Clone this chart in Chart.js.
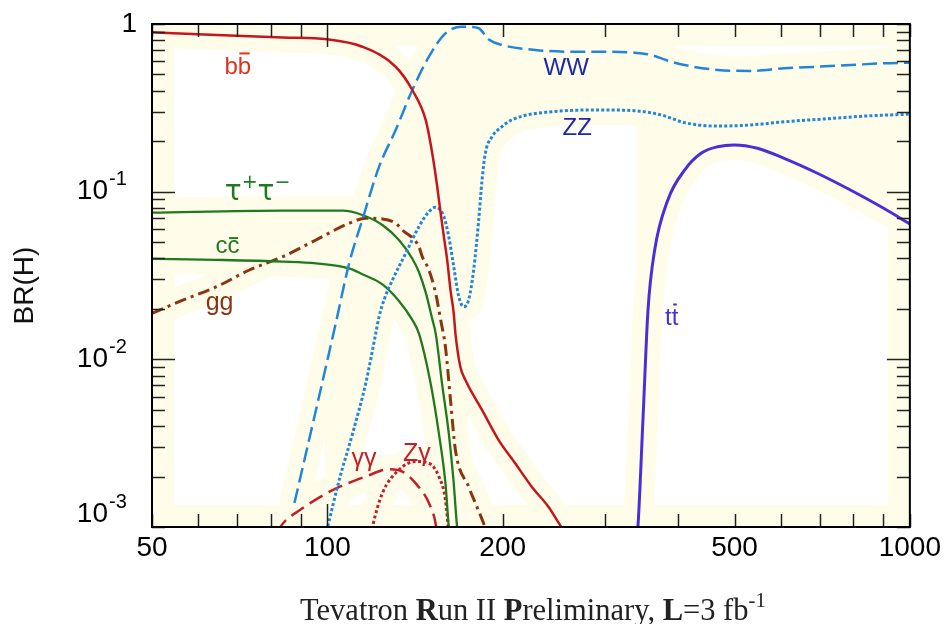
<!DOCTYPE html>
<html><head><meta charset="utf-8">
<script src="https://cdn.jsdelivr.net/npm/chart.js@4/dist/chart.umd.min.js"></script>
<style>html,body{margin:0;padding:0;background:#fff;}canvas{display:block;}</style>
</head><body>
<canvas id="c" width="945" height="624"></canvas>
<script>
// ---------- axes ----------
const xTicks = [50,60,70,80,90,100,200,300,400,500,600,700,800,900,1000];
const xTickLabels = [50,100,200,500,1000];
const xLongTicks = [100];
const yTicks = [0.001,0.002,0.003,0.004,0.005,0.006,0.007,0.008,0.009,
                0.01,0.02,0.03,0.04,0.05,0.06,0.07,0.08,0.09,
                0.1,0.2,0.3,0.4,0.5,0.6,0.7,0.8,0.9,1];
const yLabelValues = [1,0.1,0.01,0.001];
const yLabelBase = ['1','10','10','10'];
const yLabelExp = ['','-1','-2','-3'];
const yLongTicks = [0.1,0.01];
const yTitle = 'BR(H)';
const xTitleParts = ['Tevatron ','R','un II ','P','reliminary, ','L','=3 fb'];
const xTitleBold = [false,true,false,true,false,true,false];
const xTitleSup = '-1';

// ---------- series (Higgs mass in GeV, branching ratio) ----------
const bbMass = [50,64.5,83.9,100,114.8,131,139.9,147.5,151.4,154.4,156.5,158.5,160.6,162.7,164.8,165.9,169.2,172.6,184.3,196.8,210.1,224.3,239.6,250.8,256];
const bbBR   = [0.892,0.861,0.831,0.81,0.732,0.556,0.404,0.268,0.169,0.107,0.0743,0.0539,0.0391,0.0259,0.0188,0.0143,0.0090,0.00753,0.00499,0.0033,0.0024,0.00174,0.00132,0.00103,0.00093];

const wwMass = [87.8,95.6,103.5,109.0,114.8,122.7,131.0,139.9,149.4,159.5,170.3,174.8,181.9,189.1,199.4,227.4,259.2,295.5,337.1,359.8,384.2,410.5,467.8,533.4,608.4,693.7,790.7,901.8,1000];
const wwBR   = [0.00139,0.00499,0.0167,0.0374,0.0678,0.141,0.233,0.404,0.638,0.880,0.963,0.96,0.943,0.81,0.750,0.700,0.684,0.684,0.674,0.653,0.604,0.569,0.532,0.525,0.545,0.556,0.569,0.583,0.588];

const zzMass = [99.2,100.1,104.8,110.5,116.4,121.1,122.7,125.1,129.3,136.3,143.6,149.4,153.4,158.5,161.6,164.8,168.1,171.4,174.8,178.3,181.9,184.3,186.7,191.6,199.4,207.3,242.7,295.5,337.1,374.3,410.5,467.8,533.4,608.4,740.6,844.6,1000];
const zzBR   = [0.00088,0.001,0.00191,0.00362,0.0072,0.0143,0.018,0.0226,0.0297,0.0429,0.0618,0.076,0.0807,0.071,0.0539,0.0357,0.0237,0.0206,0.0226,0.0341,0.0678,0.117,0.169,0.212,0.244,0.268,0.300,0.307,0.304,0.287,0.258,0.246,0.250,0.261,0.274,0.283,0.290];

const ttMass = [339,341.5,348.3,355.2,364.7,384.2,410.5,438.1,467.8,499.7,547.5,608.4,693.7,790.7,901.8,1000];
const ttBR   = [0.0008,0.00103,0.00448,0.0197,0.0449,0.0893,0.1346,0.1694,0.1854,0.190,0.1815,0.158,0.1288,0.1023,0.0796,0.0642];

const tauMass = [50,83.9,106.2,114.8,124.3,132.7,139.7,143.6,147.6,151.2,153.6,157.3,161.6,164.8,167.0,167.7];
const tauBR   = [0.075,0.077,0.077,0.0726,0.0633,0.0515,0.0402,0.0332,0.0249,0.0177,0.0140,0.00723,0.00362,0.00182,0.001,0.0009];

const ccMass = [50,64.5,83.9,95.6,109.0,114.8,124.3,132.7,139.9,143.6,150.4,155.4,159.5,161.6,162.2];
const ccBR   = [0.0397,0.0392,0.0383,0.0374,0.0349,0.0322,0.028,0.0223,0.0172,0.0143,0.0072,0.00362,0.00182,0.001,0.0009];

const ggMass = [50,56.6,64.5,73.5,83.9,95.6,109.0,116.4,124.3,131.0,134.5,143.6,145.5,149.4,153.4,156.5,159.5,162.7,165.9,174.8,185.5,188];
const ggBR   = [0.0188,0.0226,0.0271,0.0341,0.041,0.0515,0.0648,0.0694,0.0688,0.0648,0.0591,0.047,0.041,0.0341,0.0249,0.0172,0.0118,0.00573,0.00288,0.00174,0.00105,0.00092];

const aaMass = [82,83.9,89.6,102.1,116.4,127.6,134.5,141.8,149.4,153.4,154];
const aaBR   = [0.00093,0.00105,0.00126,0.00166,0.002,0.00221,0.00214,0.00182,0.00139,0.00105,0.00095];

const zaMass = [118.8,119.5,124.3,132.7,141.8,149.4,155.4,159.5,161.2,161.5];
const zaBR   = [0.0009,0.001,0.00159,0.00219,0.00246,0.0024,0.002,0.00145,0.001,0.0009];

// ---------- curve labels (text key, anchor mass, anchor BR) ----------
const labelTexts  = ['bb','WW','ZZ','tt','tautau','cc','gg','aa','Za'];
const labelMass   = [70.2,257,268.5,390,75.9,67.4,65.3,115.6,142.5];
const labelBR     = [0.503,0.496,0.218,0.016,0.0892,0.0431,0.0197,0.00231,0.00248];

// ---------- styles ----------
const HALO = '#fffde9';
const FONT = '"Liberation Sans", Arial, sans-serif';
const SERIF = '"Liberation Serif", "Times New Roman", serif';
const styles = {
  bb:  {color:'#c4161c', width:2.5, dash:[]},
  ww:  {color:'#1f86dc', width:2.5, dash:[15,6]},
  zz:  {color:'#1f86dc', width:3,   dash:[3,2.2]},
  tt:  {color:'#4a2fd8', width:3,   dash:[]},
  tau: {color:'#1f7a1f', width:2.3, dash:[]},
  cc:  {color:'#1f7a1f', width:2.3, dash:[]},
  gg:  {color:'#8b3510', width:3,   dash:[12,5,3,5]},
  aa:  {color:'#c41e2a', width:2.5, dash:[15,7]},
  za:  {color:'#c41e2a', width:3,   dash:[3,2.5]}
};
// pale backdrop bands: fill from this series' halo to the next one
const haloFill = {ww: '+1', zz: '+1', tau: '+1'};
const labelStyle = {
  bb:{color:'#e0341e', size:24, segs:[{t:'b'},{t:'b',bar:0.9}]},
  WW:{color:'#1c2aa8', size:24, segs:[{t:'WW'}]},
  ZZ:{color:'#1c2aa8', size:24, segs:[{t:'ZZ'}]},
  tt:{color:'#4a2fd8', size:24, segs:[{t:'t'},{t:'t',bar:0.9}]},
  tautau:{color:'#1f7a1f', size:28, family:'"DejaVu Sans", sans-serif', segs:[{t:'\u03C4'},{t:'+',sup:true},{t:'\u03C4'},{t:'\u2212',sup:true}]},
  cc:{color:'#1f7a1f', size:24, segs:[{t:'c'},{t:'c',bar:0.66}]},
  gg:{color:'#8b3510', size:25, segs:[{t:'gg'}]},
  aa:{color:'#c41e2a', size:25, segs:[{t:'\u03B3\u03B3'}]},
  Za:{color:'#c41e2a', size:25, segs:[{t:'Z\u03B3'}]}
};

const seriesList = [
  ['bb', bbMass, bbBR], ['ww', wwMass, wwBR], ['zz', zzMass, zzBR], ['tt', ttMass, ttBR],
  ['tau', tauMass, tauBR], ['cc', ccMass, ccBR], ['gg', ggMass, ggBR],
  ['aa', aaMass, aaBR], ['za', zaMass, zaBR]
];
const pts = (m, b) => m.map((v, i) => ({x: v, y: b[i]}));

const datasets = [];
seriesList.forEach(([k, m, b]) => {
  datasets.push({data: pts(m, b), borderColor: HALO, borderWidth: 30, pointRadius: 0,
    cubicInterpolationMode: 'monotone', borderJoinStyle: 'round', borderCapStyle: 'round',
    fill: haloFill[k] || false, backgroundColor: HALO,
    clip: 0, order: 10});
});
seriesList.forEach(([k, m, b]) => {
  const s = styles[k];
  datasets.push({label: k, data: pts(m, b), borderColor: s.color, borderWidth: s.width,
    borderDash: s.dash, pointRadius: 0, cubicInterpolationMode: 'monotone',
    borderCapStyle: 'butt', fill: false, clip: 0, order: 1});
});

function drawRich(ctx, segs, cx, baseY, size, family, color) {
  let w = 0;
  const parts = segs.map(s => {
    const fs = s.sup ? size * 0.68 : size;
    ctx.font = `${s.bold ? 'bold ' : ''}${fs}px ${family}`;
    const sw = ctx.measureText(s.t).width;
    w += sw;
    return Object.assign({}, s, {fs, sw});
  });
  let x = cx - w / 2;
  ctx.fillStyle = color; ctx.textAlign = 'left'; ctx.textBaseline = 'alphabetic';
  parts.forEach(p => {
    ctx.font = `${p.bold ? 'bold ' : ''}${p.fs}px ${family}`;
    ctx.fillText(p.t, x, p.sup ? baseY - size * 0.42 : baseY);
    if (p.bar) ctx.fillRect(x + 1.5, baseY - size * p.bar, p.sw - 3, 2);
    x += p.sw;
  });
}

const decor = {
  id: 'decor',
  beforeDatasetsDraw(chart) {
    const {ctx, chartArea: a} = chart;
    const b = 22;
    ctx.save();
    ctx.fillStyle = HALO;
    ctx.fillRect(a.left, a.top, a.right - a.left, b);
    ctx.fillRect(a.left, a.bottom - b, a.right - a.left, b);
    ctx.fillRect(a.left, a.top, b, a.bottom - a.top);
    ctx.fillRect(a.right - b, a.top, b, a.bottom - a.top);
    ctx.restore();
  },
  afterDatasetsDraw(chart) {
    const {ctx, chartArea: a, scales: {x, y}} = chart;
    ctx.save();
    // inward tick marks on all four sides
    ctx.strokeStyle = '#222'; ctx.lineWidth = 1.5;
    ctx.beginPath();
    xTicks.forEach(v => {
      const px = Math.round(x.getPixelForValue(v)) + 0.5;
      const len = xLongTicks.includes(v) ? 23 : 13;
      ctx.moveTo(px, a.bottom); ctx.lineTo(px, a.bottom - len);
      ctx.moveTo(px, a.top); ctx.lineTo(px, a.top + len);
    });
    yTicks.forEach(v => {
      const py = Math.round(y.getPixelForValue(v)) + 0.5;
      const len = yLongTicks.includes(v) ? 23 : 13;
      ctx.moveTo(a.left, py); ctx.lineTo(a.left + len, py);
      ctx.moveTo(a.right, py); ctx.lineTo(a.right - len, py);
    });
    ctx.stroke();
    // frame
    ctx.strokeStyle = '#000'; ctx.lineWidth = 2;
    ctx.strokeRect(a.left, a.top, a.right - a.left, a.bottom - a.top);
    // y tick labels with superscripts
    ctx.fillStyle = '#000';
    yLabelValues.forEach((v, i) => {
      const py = y.getPixelForValue(v);
      const cy = Math.min(Math.max(py, a.top - 5), a.bottom - 13);
      ctx.textBaseline = 'middle';
      ctx.font = `28px ${FONT}`;
      if (yLabelExp[i] === '') {
        ctx.textAlign = 'right';
        ctx.fillText(yLabelBase[i], a.left - 15, cy);
      } else {
        ctx.textAlign = 'right';
        ctx.fillText(yLabelBase[i], a.left - 44, cy);
        ctx.textAlign = 'left';
        ctx.font = `20px ${FONT}`;
        ctx.fillText(yLabelExp[i], a.left - 43, cy - 12);
      }
    });
    // y title
    ctx.save();
    ctx.translate(25, (a.top + a.bottom) / 2 + 10);
    ctx.rotate(-Math.PI / 2);
    ctx.textAlign = 'center'; ctx.textBaseline = 'middle';
    ctx.font = `28px ${FONT}`; ctx.fillStyle = '#111';
    ctx.fillText(yTitle, 0, 0);
    ctx.restore();
    // x title
    const segs = xTitleParts.map((t, i) => ({t, bold: xTitleBold[i]}));
    segs.push({t: xTitleSup, sup: true});
    drawRich(ctx, segs, (a.left + a.right) / 2 + 2, 620, 30.5, SERIF, '#222');
    // curve labels
    labelTexts.forEach((k, i) => {
      const st = labelStyle[k];
      drawRich(ctx, st.segs, x.getPixelForValue(labelMass[i]), y.getPixelForValue(labelBR[i]),
        st.size, st.family || FONT, st.color);
    });
    ctx.restore();
  }
};

new Chart(document.getElementById('c'), {
  type: 'line',
  data: {datasets},
  plugins: [decor],
  options: {
    responsive: false, animation: false, events: [],
    layout: {padding: {top: 24, right: 32, left: 0, bottom: 0}},
    plugins: {legend: {display: false}, tooltip: {enabled: false}, filler: {propagate: false}},
    scales: {
      x: {
        type: 'logarithmic', position: 'bottom', min: 50, max: 1000,
        grid: {display: false, drawTicks: false}, border: {display: false},
        afterBuildTicks: s => { s.ticks = xTicks.map(v => ({value: v})); },
        afterFit: s => { s.height = 97; },
        ticks: {autoSkip: false, maxRotation: 0, padding: 4, color: '#000',
          font: {family: FONT, size: 28},
          callback: v => xTickLabels.includes(v) ? String(v) : ''}
      },
      y: {
        type: 'logarithmic', position: 'left', min: 0.001, max: 1,
        grid: {display: false, drawTicks: false}, border: {display: false},
        afterBuildTicks: s => { s.ticks = yTicks.map(v => ({value: v})); },
        afterFit: s => { s.width = 152; },
        ticks: {display: false}
      }
    }
  }
});
</script>
</body></html>
